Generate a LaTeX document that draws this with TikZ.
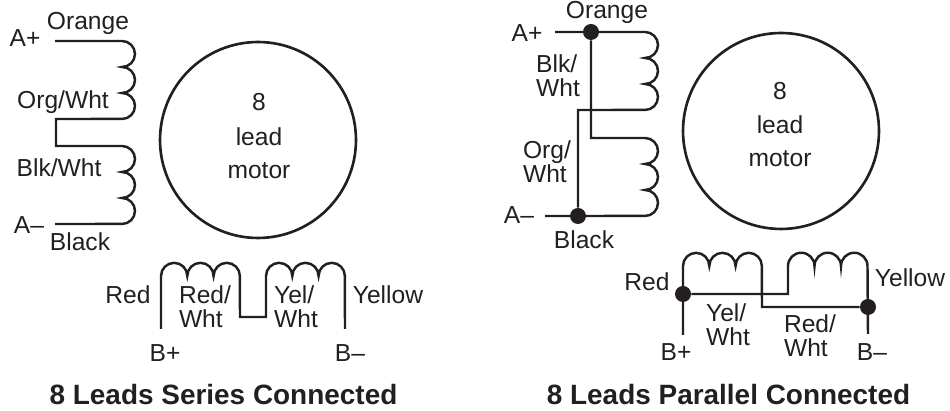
\documentclass[tikz,border=0pt]{standalone}
\usepackage{fontspec}
\setmainfont{Liberation Sans}
\usetikzlibrary{positioning}
\definecolor{ink}{HTML}{231F20}
\tikzset{
	wire/.style={draw=ink,line width=1.4pt},
	tag/.style={text=ink,inner sep=0pt,align=left,font=\fontsize{14}{13.6}\selectfont},
	headline/.style={text=ink,inner sep=0pt,font=\fontsize{15.9}{18}\selectfont\bfseries},
	joint/.style={circle,fill=ink,inner sep=0pt,minimum size=0.32cm},
	rotor/.style={draw=ink,line width=1.5pt,circle,minimum size=3.92cm},
}
\begin{document}
\begin{tikzpicture}[x=0.02cm,y=0.02cm]
	\useasboundingbox (0,0) rectangle (950,411);
	%%%%%%%%%% series
	\coordinate (s1) at (55,370);
	\coordinate (s2) at (122,370);
	\coordinate (s4) at (56,292);
	\coordinate (s5) at (56,265);
	\coordinate (s6) at (122,265);
	\coordinate (s8) at (55,187);
	\coordinate (s9) at (161,82);
	\coordinate (s10) at (161,135);
	\coordinate (s12) at (240,94);
	\coordinate (s13) at (266,94);
	\coordinate (s14) at (266,135);
	\coordinate (s16) at (345,82);
	\node[rotor] (motor1) at (258,271) {};
	\draw[wire] (s1) -- (s2) foreach \n in {1,2,3} {arc[start angle=90,end angle=-90,radius=0.26cm]} -- (s4) -- (s5) -- (s6)
		foreach \n in {1,2,3} {arc[start angle=90,end angle=-90,radius=0.26cm]} -- (s8);
	\draw[wire] (s9) -- (s10) foreach \n in {1,2,3} {arc[start angle=180,end angle=0,radius=0.263cm]} -- (s12) -- (s13) -- (s14)
		foreach \n in {1,2,3} {arc[start angle=180,end angle=0,radius=0.263cm]} -- (s16);
	\node[tag] (sorange) at (88,388) {Orange};
	\node[tag] (saplus) at (25,373) {A+};
	\node[tag] (sorgwht) at (63,309) {Org/Wht};
	\node[tag] (sblkwht) at (59,243) {Blk/Wht};
	\node[tag] (saminus) at (29,186) {A--};
	\node[tag] (sblack) at (80,169) {Black};
	\node[tag] (seight) at (259,309) {8};
	\node[tag] (slead) at (259,274) {lead};
	\node[tag] (smotor) at (259,240) {motor};
	\node[tag] (sred) at (128,116) {Red};
	\node[tag] (sredwht) at (205,104) {Red/\\Wht};
	\node[tag] (syelwht) at (296,104) {Yel/\\Wht};
	\node[tag] (syellow) at (388,116) {Yellow};
	\node[tag] (sbplus) at (165,58) {B+};
	\node[tag] (sbminus) at (350,58) {B--};
	\node[headline] (stitle) at (223.5,16) {8 Leads Series Connected};
	%%%%%%%%%% parallel
	\node[joint] (p1) at (591,379) {};
	\node[joint] (p2) at (578,195) {};
	\node[joint] (p3) at (683,117) {};
	\node[joint] (p4) at (868,104) {};
	\coordinate (q1) at (555,379);
	\coordinate (q2) at (645,379);
	\coordinate (q4) at (578,301);
	\coordinate (q5) at (591,273);
	\coordinate (q6) at (645,273);
	\coordinate (q8) at (545,195);
	\coordinate (q9) at (683,76);
	\coordinate (q10) at (683,145);
	\coordinate (q12) at (762,104);
	\coordinate (q13) at (788,117);
	\coordinate (q14) at (788,145);
	\coordinate (q16) at (868,77);
	\node[rotor] (motor2) at (781,280) {};
	\draw[wire] (q1) -- (q2) foreach \n in {1,2,3} {arc[start angle=90,end angle=-90,radius=0.26cm]} -- (q4) -- (p2);
	\draw[wire] (p1) -- (q5) -- (q6) foreach \n in {1,2,3} {arc[start angle=90,end angle=-90,radius=0.26cm]} -- (q8);
	\draw[wire] (q9) -- (q10) foreach \n in {1,2,3} {arc[start angle=180,end angle=0,radius=0.263cm]} -- (q12) -- (p4);
	\draw[wire] (p3) -- (q13) -- (q14) foreach \n in {1,2,3} {arc[start angle=180,end angle=0,radius=0.265cm]} -- (q16);
	\node[tag] (porange) at (607,399) {Orange};
	\node[tag] (paplus) at (527,378) {A+};
	\node[tag] (pblkwht) at (558,335) {Blk/\\Wht};
	\node[tag] (porgwht) at (547,249) {Org/\\Wht};
	\node[tag] (paminus) at (519,196) {A--};
	\node[tag] (pblack) at (584,171) {Black};
	\node[tag] (peight) at (780,320) {8};
	\node[tag] (plead) at (780,286) {lead};
	\node[tag] (pmotor) at (780,252) {motor};
	\node[tag] (pred) at (647,129) {Red};
	\node[tag] (pyelwht) at (728,86) {Yel/\\Wht};
	\node[tag] (pyellow) at (910,133) {Yellow};
	\node[tag] (predwht) at (810,75) {Red/\\Wht};
	\node[tag] (pbplus) at (676,59) {B+};
	\node[tag] (pbminus) at (872,59) {B--};
	\node[headline] (ptitle) at (728.5,16) {8 Leads Parallel Connected};
\end{tikzpicture}
\end{document}
